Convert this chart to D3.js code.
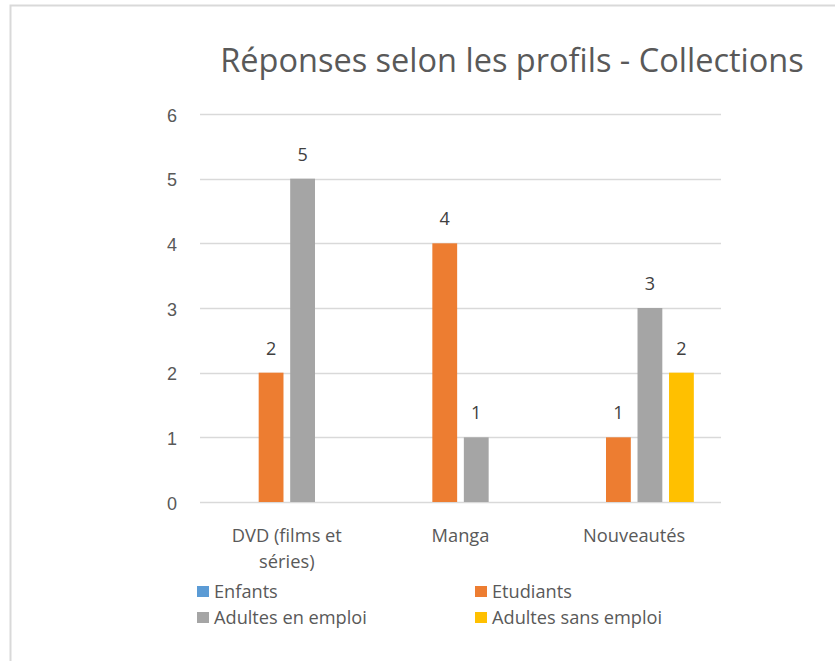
<!DOCTYPE html>
<html><head><meta charset="utf-8">
<script src="https://cdn.jsdelivr.net/npm/d3@7"></script>
<style>body{margin:0;background:#fff;} svg{display:block;font-family:"Open Sans",sans-serif;}</style>
</head><body>
<svg id="c" width="835" height="661"></svg>
<script>
const title = "Réponses selon les profils - Collections";
const categories = [["DVD (films et", "séries)"], ["Manga"], ["Nouveautés"]];
const seriesNames = ["Enfants", "Etudiants", "Adultes en emploi", "Adultes sans emploi"];
const seriesColors = ["#5B9BD5", "#ED7D31", "#A5A5A5", "#FFC000"];
const enfants = [null, null, null];
const etudiants = [2, 4, 1];
const adultesEmploi = [5, 1, 3];
const adultesSansEmploi = [null, null, 2];
const yTicks = [0, 1, 2, 3, 4, 5, 6];

const series = [enfants, etudiants, adultesEmploi, adultesSansEmploi];
const svg = d3.select("#c");
const textColor = "#595959";

// chart border
svg.append("rect").attr("x", 10.5).attr("y", 5.5).attr("width", 900).attr("height", 800)
  .attr("fill", "none").attr("stroke", "#d9d9d9").attr("stroke-width", 2);

const x0 = 200, x1 = 721, yTop = 114, yBot = 502;
const x = d3.scaleBand().domain(d3.range(categories.length)).range([x0, x1]).padding(0);
const y = d3.scaleLinear().domain([0, 6]).range([yBot, yTop]);

const unit = x.bandwidth() / 7.0;
const barW = unit;
const pitch = unit * 1.27;
const groupW = barW * 4 + (pitch - barW) * 3;

// gridlines
svg.append("g").selectAll("line").data(yTicks).join("line")
  .attr("x1", x0).attr("x2", x1)
  .attr("y1", d => Math.round(y(d)) + 0.5).attr("y2", d => Math.round(y(d)) + 0.5)
  .attr("stroke", "#d9d9d9").attr("stroke-width", 1.3);

// y axis labels
const yAxis = d3.axisLeft(y).tickValues(yTicks).tickSize(0).tickPadding(0).tickFormat(d3.format("d"));
const ya = svg.append("g").attr("transform", "translate(172,0)").call(yAxis);
ya.select(".domain").remove();
ya.selectAll("text").attr("fill", textColor).style("font-size", "18px")
  .attr("text-anchor", "middle").attr("x", 0).attr("dy", "0.4em");

// bars
series.forEach((vals, si) => {
  const g = svg.append("g");
  const data = vals.map((v, ci) => ({v, ci})).filter(d => d.v !== null);
  g.selectAll("rect").data(data).join("rect")
    .attr("x", d => x(d.ci) + (x.bandwidth() - groupW) / 2 + si * pitch)
    .attr("width", barW)
    .attr("y", d => y(d.v))
    .attr("height", d => y(0) - y(d.v))
    .attr("fill", seriesColors[si]);
  g.selectAll("text").data(data).join("text")
    .attr("x", d => x(d.ci) + (x.bandwidth() - groupW) / 2 + si * pitch + barW / 2)
    .attr("y", d => y(d.v) - 18)
    .attr("text-anchor", "middle").attr("fill", "#404040").style("font-size", "18px")
    .text(d => d.v);
});

// category labels
const cg = svg.append("g");
categories.forEach((lines, ci) => {
  const t = cg.append("text").attr("text-anchor", "middle").attr("fill", textColor).style("font-size", "18.3px");
  lines.forEach((ln, li) => {
    t.append("tspan").attr("x", x(ci) + x.bandwidth() / 2).attr("y", 542 + li * 26).text(ln);
  });
});

// title
svg.append("text").attr("x", 512).attr("y", 72).attr("text-anchor", "middle")
  .attr("fill", textColor).style("font-size", "32.5px").text(title);

// legend
const legPos = [[197, 586], [475, 586], [197, 612], [475, 612]];
seriesNames.forEach((n, i) => {
  const [lx, ly] = legPos[i];
  svg.append("rect").attr("x", lx).attr("y", ly).attr("width", 12).attr("height", 11).attr("fill", seriesColors[i]);
  svg.append("text").attr("x", lx + 17).attr("y", ly + 12).attr("fill", textColor).style("font-size", "18.2px").text(n);
});
</script>
</body></html>
